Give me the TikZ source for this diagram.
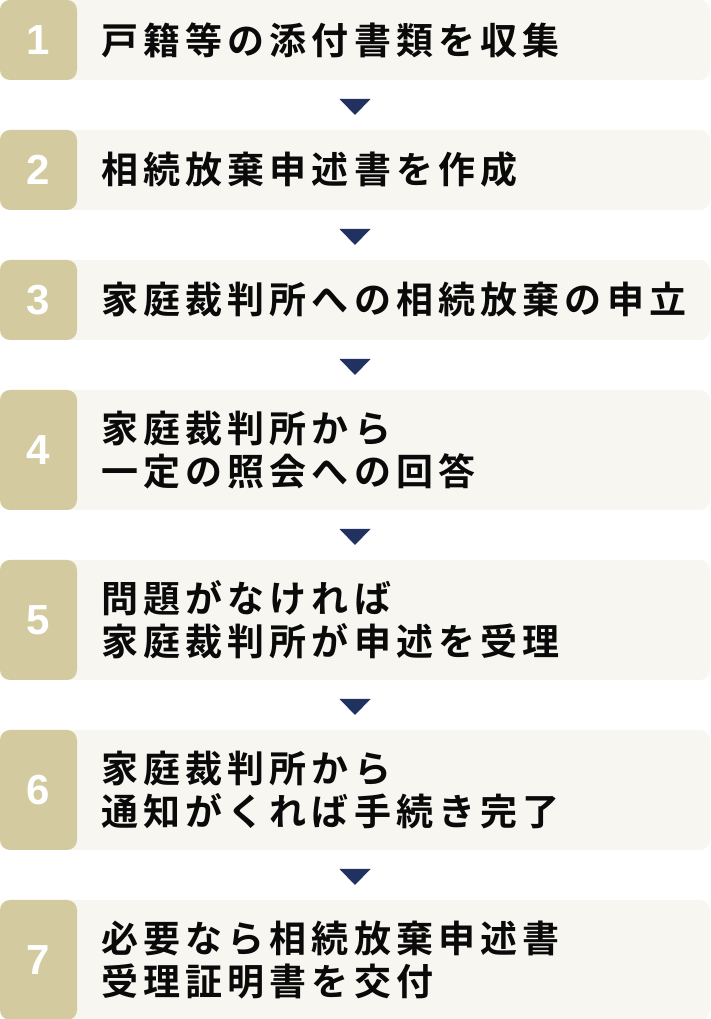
\documentclass[tikz,border=0pt]{standalone}
\usepackage{fontspec}
\usetikzlibrary{calc}
\newfontfamily\jpfont{Noto Sans CJK JP}[BoldFont={Noto Sans CJK JP Bold},LetterSpace=14]
\newfontfamily\numfont{Liberation Sans}
\definecolor{boxbg}{HTML}{F7F6F0}
\definecolor{panel}{HTML}{D3CB9F}
\definecolor{navy}{HTML}{213160}
\definecolor{ink}{HTML}{0A0A0A}
\tikzset{
  stepbox/.style={rectangle, rounded corners=10pt, fill=boxbg, minimum width=710pt,
    minimum height=#1, inner sep=0pt,
    path picture={\fill[panel] (path picture bounding box.north west) rectangle ([xshift=77pt]path picture bounding box.south west);}},
  stepnum/.style={text=white, font=\numfont\bfseries\fontsize{42pt}{42pt}\selectfont, inner sep=0pt},
  steptext/.style={text=ink, font=\jpfont\bfseries\fontsize{37pt}{43pt}\selectfont, inner sep=0pt, align=left, anchor=west},
  tri/.style={fill=navy}
}
\begin{document}
\begin{tikzpicture}[x=1pt,y=1pt]
\useasboundingbox (0,0) rectangle (710,1019);
% boxes
\node[stepbox=80pt]  (b1) at (355,979) {};
\node[stepbox=80pt]  (b2) at (355,849) {};
\node[stepbox=80pt]  (b3) at (355,719) {};
\node[stepbox=120pt] (b4) at (355,569) {};
\node[stepbox=120pt] (b5) at (355,399) {};
\node[stepbox=120pt] (b6) at (355,229) {};
\node[stepbox=120pt] (b7) at (355,59) {};
% numbers
\foreach \i in {1,...,7}{
  \node[stepnum] (n\i) at ([xshift=38.5pt]b\i.west) {\i};
}
% texts
\node[steptext] (x1) at ([xshift=101pt]b1.west) {戸籍等の添付書類を収集};
\node[steptext] (x2) at ([xshift=101pt]b2.west) {相続放棄申述書を作成};
\node[steptext] (x3) at ([xshift=101pt]b3.west) {家庭裁判所への相続放棄の申立};
\node[steptext] (x4) at ([xshift=101pt]b4.west) {家庭裁判所から\\一定の照会への回答};
\node[steptext] (x5) at ([xshift=101pt]b5.west) {問題がなければ\\家庭裁判所が申述を受理};
\node[steptext] (x6) at ([xshift=101pt]b6.west) {家庭裁判所から\\通知がくれば手続き完了};
\node[steptext] (x7) at ([xshift=101pt]b7.west) {必要なら相続放棄申述書\\受理証明書を交付};
% arrows (triangles between boxes)
\foreach \a/\b in {1/2,2/3,3/4,4/5,5/6,6/7}{
  \coordinate (t\a) at ($(b\a.south)!0.5!(b\b.north)+(0,-2)$);
  \fill[tri] ([xshift=-15.5pt,yshift=8pt]t\a) -- ([xshift=15.5pt,yshift=8pt]t\a) -- ([yshift=-8pt]t\a) -- cycle;
}
\end{tikzpicture}
\end{document}
